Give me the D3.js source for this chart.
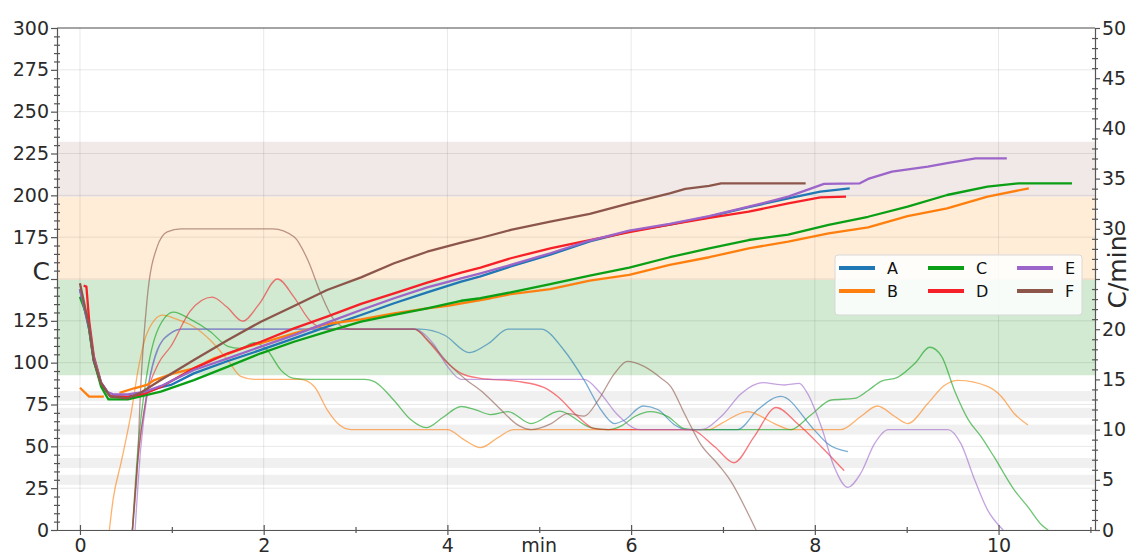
<!DOCTYPE html>
<html>
<head>
<meta charset="utf-8">
<script src="https://cdn.jsdelivr.net/npm/d3@7"></script>
<style>
  body { margin: 0; background: #fff; }
  text { font-family: "DejaVu Sans", sans-serif; }
</style>
</head>
<body>
<svg id="chart" width="1131" height="555"></svg>
<script>
// series names
var seriesNames = ["A", "B", "C", "D", "E", "F"];

// temperature (left axis, C) - [minute, value]
var tempA = [[0,144],[0.1,120],[0.15,101],[0.23,87],[0.33,80],[0.52,79.5],[0.66,81],[0.85,84.9],[0.99,86.7],[1.24,93.6],[1.61,101],[1.97,107.6],[2.33,114.5],[2.69,121.5],[3.06,128.5],[3.42,135.5],[3.78,142],[4.15,148.4],[4.36,151.6],[4.69,157.5],[5.12,164.5],[5.55,172.5],[5.98,178.5],[6.42,182.5],[6.85,187.3],[7.28,193],[7.8,199.2],[8.06,202.2],[8.38,204.2]];
var tempB = [[0,85],[0.1,79.7],[0.26,79.7],[0.35,null],[0.43,82],[0.59,84.7],[0.73,86.7],[0.81,89.6],[1.02,93.6],[1.24,96.6],[1.46,102.6],[1.61,105.2],[1.82,109.6],[1.97,111.6],[2.33,117.5],[2.69,123.1],[3.06,125.9],[3.42,129.5],[3.78,132.5],[4.0,134],[4.47,138.5],[4.69,141],[5.12,144],[5.55,149],[5.98,152.4],[6.42,158.4],[6.85,163],[7.28,168.3],[7.71,172.3],[8.15,177.3],[8.58,180.9],[9.01,187.6],[9.44,192.2],[9.88,199.2],[10.33,204.2]];
var tempC = [[0,139.4],[0.08,127.5],[0.15,101.6],[0.23,85.6],[0.31,78.1],[0.52,78.1],[0.73,80.7],[0.88,82.7],[1.24,89.6],[1.61,97.6],[1.97,105.6],[2.33,112.5],[2.69,118.5],[3.06,124.5],[3.42,128.5],[3.78,132.5],[4.15,137],[4.36,138.5],[4.69,142],[5.12,147],[5.55,152],[5.98,156.8],[6.42,163],[6.85,168.3],[7.28,173.3],[7.71,176.5],[8.15,182.3],[8.58,187.2],[9.01,193.2],[9.44,200.2],[9.88,205.2],[10.22,207.2],[10.8,207.2]];
var tempD = [[0.04,146],[0.07,145.5],[0.1,125],[0.15,104],[0.23,88],[0.33,80],[0.52,79.5],[0.7,81.5],[0.9,86],[1.24,96.6],[1.61,105.6],[1.97,112.5],[2.33,120.5],[2.69,127.5],[3.06,135.1],[3.42,141.4],[3.78,147.8],[4.15,153.8],[4.36,156.8],[4.69,162.4],[5.12,168.3],[5.47,172.3],[5.98,178],[6.42,182.5],[6.85,186.5],[7.28,190.2],[7.71,195.2],[8.06,198.8],[8.34,199.2]];
var tempE = [[0,144],[0.1,121],[0.15,103],[0.23,88],[0.3,82.5],[0.36,81.1],[0.52,81.1],[0.7,82.5],[0.9,86.5],[1.24,95.6],[1.61,102.6],[1.97,109.6],[2.33,116.5],[2.69,123.9],[3.06,131.5],[3.42,138.5],[3.78,145],[4.15,150.4],[4.36,153.4],[4.69,158.4],[5.12,165.4],[5.55,173],[5.98,178.9],[6.42,182.9],[6.85,187.6],[7.28,193.2],[7.71,199.2],[8.1,206.8],[8.49,207.2],[8.58,209.8],[8.84,214.2],[9.23,217.2],[9.44,219.2],[9.75,222.1],[10.09,222.1]];
var tempF = [[0,147.4],[0.1,121.5],[0.15,101.6],[0.23,87.7],[0.33,79.7],[0.52,78.7],[0.66,82],[0.88,89.6],[1.24,101.6],[1.61,113.5],[1.97,124.5],[2.33,133.9],[2.69,143.4],[3.06,151],[3.42,159.4],[3.78,166.3],[4.15,171.7],[4.36,174.5],[4.69,179.3],[5.12,184.3],[5.55,188.9],[5.98,195.2],[6.42,201.2],[6.59,203.8],[6.85,205.6],[6.98,207.2],[7.9,207.2]];

// rate of rise (right axis, C/min) - [minute, value]
var rateA = [[0.575,0],[0.63,7],[0.7,12],[0.84,17.9],[0.99,19.6],[1.1,20],[3.7,20],[3.97,19.4],[4.24,17.66],[4.45,18.6],[4.66,20],[5.02,20],[5.27,17.9],[5.49,14.9],[5.67,12],[5.82,10.6],[5.93,10.96],[6.13,12.35],[6.29,12],[6.47,10.5],[6.6,10],[7.16,10],[7.38,12],[7.63,13.3],[7.99,10],[8.14,8.6],[8.36,7.8]];
var rateB = [[0.32,0],[0.36,3],[0.45,6.8],[0.56,11.8],[0.64,16.3],[0.73,19.6],[0.9,21.4],[1.05,21],[1.24,20.25],[1.42,18.9],[1.61,16.9],[1.75,15.3],[1.9,15],[2.4,15],[2.55,14.3],[2.69,12],[2.82,10.5],[2.95,10],[4.0,10],[4.18,9],[4.36,8.2],[4.55,9.2],[4.72,10],[6.85,10],[6.98,10.6],[7.27,11.8],[7.56,10.6],[7.74,10],[8.28,10],[8.5,11.3],[8.68,12.35],[8.87,11.3],[9.01,10.6],[9.23,12.6],[9.41,14.4],[9.56,14.9],[9.88,14.3],[10.03,13.3],[10.17,11.6],[10.32,10.46]];
var rateC = [[0.57,0],[0.63,8],[0.72,15],[0.85,20],[1.02,21.7],[1.2,21],[1.42,19.75],[1.61,18.3],[1.74,18.1],[1.9,18.65],[2.04,17.9],[2.19,15.9],[2.33,15.1],[2.5,15],[3.1,15],[3.2,14.8],[3.42,12.9],[3.6,11],[3.77,10.2],[3.95,11.2],[4.15,12.3],[4.3,12],[4.47,11.5],[4.66,11.8],[4.91,10.6],[5.22,11.85],[5.56,10.2],[5.75,10],[5.9,10.4],[6.04,11.3],[6.21,11.8],[6.4,11.3],[6.58,10.1],[6.7,10],[7.74,10],[7.95,11.4],[8.18,12.95],[8.43,13.1],[8.58,13.9],[8.72,14.8],[8.9,15.2],[9.09,16.6],[9.25,18.2],[9.38,17.3],[9.52,13.9],[9.67,11],[9.81,9.3],[9.95,7.3],[10.17,4],[10.32,2.3],[10.47,0.5],[10.54,0]];
var rateD = [[0.57,0],[0.63,7],[0.72,13],[0.85,16.5],[0.99,18.3],[1.2,21.8],[1.44,23.2],[1.6,22.2],[1.77,20.8],[1.95,22.5],[2.15,25],[2.33,23.2],[2.5,20.9],[2.7,20],[3.64,20],[3.78,18.9],[3.97,16.9],[4.15,15.6],[4.36,15.1],[4.76,14.8],[5.05,14.2],[5.2,13.3],[5.42,11.3],[5.6,10.1],[5.75,10],[6.64,10],[6.91,8.3],[7.12,6.7],[7.34,9.3],[7.58,12.2],[7.81,10.6],[8.07,8.3],[8.32,5.9]];
var rateE = [[0.6,0],[0.66,8],[0.74,14],[0.85,18],[1.0,19.7],[1.12,20],[3.64,20],[3.85,18.5],[4.0,16.3],[4.15,15],[5.49,15],[5.65,13.8],[5.85,11.5],[6.1,10],[6.76,10],[6.98,11.3],[7.2,13.6],[7.43,14.67],[7.67,14.44],[7.83,14.6],[7.92,13.6],[8.07,10.3],[8.21,6.3],[8.36,4.25],[8.5,5.65],[8.65,8.6],[8.8,10],[9.45,10],[9.59,8.6],[9.74,5],[9.88,2],[10.05,0]];
var rateF = [[0.57,0],[0.6,3],[0.62,5.5],[0.66,14],[0.73,22.9],[0.84,28.2],[0.95,29.7],[1.1,30],[2.1,30],[2.33,29.2],[2.48,26.9],[2.62,23.6],[2.77,20.9],[2.95,20],[3.64,20],[3.82,18.6],[4.04,16.3],[4.2,15],[4.4,13.6],[4.58,12],[4.76,10.5],[4.91,10],[5.13,10.6],[5.31,11.6],[5.49,11.35],[5.64,12.9],[5.82,15.6],[5.96,16.8],[6.14,16.3],[6.33,15.1],[6.43,14.3],[6.58,11.6],[6.76,8.5],[6.95,6.5],[7.09,4.8],[7.27,1.7],[7.36,0]];

// background zones (left axis values) and reference stripes
var zoneLimits = [92.5, 149.5, 199, 232];
var stripeCenters = [30, 40, 60, 70, 80];
var stripeHalf = 3;

// tick values
var leftTicks = d3.range(0, 301, 25);
var rightTicks = d3.range(0, 51, 5);
var xMajorTicks = [0, 2, 4, 6, 8, 10];

var temps = [tempA, tempB, tempC, tempD, tempE, tempF];
var rates = [rateA, rateB, rateC, rateD, rateE, rateF];
var colors = ["#1f77b4", "#ff7f0e", "#0a9f14", "#f52028", "#9c65c9", "#8c564b"];

var svg = d3.select("#chart");
var pLeft = 57, pRight = 1095, pTop = 28, pBottom = 530;

var x = d3.scaleLinear().domain([-0.25, 11.05]).range([pLeft, pRight]);
var yL = d3.scaleLinear().domain([0, 300]).range([pBottom, pTop]);
var yR = d3.scaleLinear().domain([0, 50]).range([pBottom, pTop]);

svg.append("defs").append("clipPath").attr("id", "plot")
  .append("rect").attr("x", pLeft).attr("y", pTop).attr("width", pRight - pLeft).attr("height", pBottom - pTop);

// zones
var zoneColors = ["rgba(44,160,44,0.22)", "rgba(255,165,60,0.2)", "rgba(140,86,75,0.13)"];
for (var i = 0; i < 3; i++) {
  svg.append("rect")
    .attr("x", pLeft).attr("width", pRight - pLeft)
    .attr("y", yL(zoneLimits[i + 1])).attr("height", yL(zoneLimits[i]) - yL(zoneLimits[i + 1]))
    .attr("fill", zoneColors[i]);
}
svg.selectAll(".stripe").data(stripeCenters).enter().append("rect")
  .attr("x", pLeft).attr("width", pRight - pLeft)
  .attr("y", function (d) { return yL(d + stripeHalf); })
  .attr("height", function (d) { return yL(d - stripeHalf) - yL(d + stripeHalf); })
  .attr("fill", "#f0f0f0");

// grid
svg.selectAll(".hgrid").data(leftTicks).enter().append("line")
  .attr("x1", pLeft).attr("x2", pRight)
  .attr("y1", function (d) { return yL(d); }).attr("y2", function (d) { return yL(d); })
  .attr("stroke", "rgba(0,0,0,0.09)");
svg.selectAll(".vgrid").data(xMajorTicks).enter().append("line")
  .attr("y1", pTop).attr("y2", pBottom)
  .attr("x1", function (d) { return x(d); }).attr("x2", function (d) { return x(d); })
  .attr("stroke", "rgba(0,0,0,0.09)");

// lines
var plot = svg.append("g").attr("clip-path", "url(#plot)");
var rateLine = d3.line()
  .x(function (d) { return x(d[0]); })
  .y(function (d) { return yR(d[1]); })
  .curve(d3.curveMonotoneX);
var tempLine = d3.line()
  .defined(function (d) { return d[1] !== null; })
  .x(function (d) { return x(d[0]); })
  .y(function (d) { return yL(d[1]); });

rates.forEach(function (r, i) {
  plot.append("path").datum(r)
    .attr("d", rateLine)
    .attr("fill", "none")
    .attr("stroke", colors[i])
    .attr("stroke-opacity", 0.6)
    .attr("stroke-width", 1.3);
});
temps.forEach(function (t, i) {
  plot.append("path").datum(t)
    .attr("d", tempLine)
    .attr("fill", "none")
    .attr("stroke", colors[i])
    .attr("stroke-width", 2.3)
    .attr("stroke-linejoin", "round");
});

// frame top
svg.append("line").attr("x1", pLeft).attr("x2", pRight).attr("y1", pTop).attr("y2", pTop)
  .attr("stroke", "#555").attr("stroke-width", 1.2);

function styleAxis(g) {
  g.selectAll("path,line").attr("stroke", "#555").attr("stroke-width", 1.2);
  g.selectAll("text").attr("fill", "#2a2a2a").style("font-size", "19px").style("font-family", "DejaVu Sans");
}

// left axis
var gl = svg.append("g").attr("transform", "translate(" + pLeft + ",0)")
  .call(d3.axisLeft(yL).tickValues(leftTicks).tickSize(6).tickPadding(2)
    .tickFormat(function (d) { return d === 150 ? "" : d; }));
styleAxis(gl);
svg.append("g").attr("transform", "translate(" + (pLeft + 3) + ",0)")
  .call(d3.axisLeft(yL).tickValues(d3.range(0, 301, 5).filter(function (d) { return d % 25; }))
    .tickSize(6).tickFormat("").tickSizeOuter(0))
  .call(function (g) { g.select(".domain").remove(); styleAxis(g); });
svg.append("text").attr("x", pLeft - 7).attr("y", yL(150)).attr("dy", "0.05em")
  .attr("text-anchor", "end").attr("fill", "#2a2a2a").style("font-size", "25px").text("C");

// right axis
var gr = svg.append("g").attr("transform", "translate(" + pRight + ",0)")
  .call(d3.axisRight(yR).tickValues(rightTicks).tickSize(5).tickPadding(2)
    .tickFormat(function (d) { return d === 25 ? "" : d; }));
styleAxis(gr);
svg.append("g").attr("transform", "translate(" + (pRight - 3) + ",0)")
  .call(d3.axisRight(yR).tickValues(d3.range(0, 51, 1).filter(function (d) { return d % 5; }))
    .tickSize(6).tickFormat("").tickSizeOuter(0))
  .call(function (g) { g.select(".domain").remove(); styleAxis(g); });
svg.append("text")
  .attr("transform", "translate(" + (pRight + 31) + "," + (yR(25) - 7) + ") rotate(-90)")
  .attr("text-anchor", "middle").attr("fill", "#2a2a2a").style("font-size", "25px").text("C/min");

// bottom axis
var gb = svg.append("g").attr("transform", "translate(0," + pBottom + ")")
  .call(d3.axisBottom(x).tickValues(xMajorTicks).tickSize(5).tickPadding(4).tickSizeOuter(0));
styleAxis(gb);
gb.selectAll(".tick line").attr("y1", -5);
svg.append("g").attr("transform", "translate(0," + pBottom + ")")
  .call(d3.axisBottom(x).tickValues([1, 3, 5, 7, 9, 11]).tickSize(3).tickFormat("").tickSizeOuter(0))
  .call(function (g) { g.select(".domain").remove(); styleAxis(g); g.selectAll(".tick line").attr("y1", -3); });
svg.append("text").attr("x", x(5)).attr("y", pBottom + 22)
  .attr("text-anchor", "middle").attr("fill", "#2a2a2a").style("font-size", "19px").text("min");

// legend
var lg = svg.append("g").attr("transform", "translate(835,255)");
lg.append("rect").attr("width", 247).attr("height", 60).attr("rx", 3)
  .attr("fill", "rgba(255,255,255,0.85)").attr("stroke", "#d8d8d8");
seriesNames.forEach(function (name, i) {
  var col = Math.floor(i / 2), row = i % 2;
  var gx = 4 + col * 89, gy = 13 + row * 23;
  lg.append("line").attr("x1", gx).attr("x2", gx + 36).attr("y1", gy).attr("y2", gy)
    .attr("stroke", colors[i]).attr("stroke-width", 4);
  lg.append("text").attr("x", gx + 48).attr("y", gy).attr("dy", "0.36em")
    .attr("fill", "#111").style("font-size", "16px").text(name);
});
</script>
</body>
</html>
